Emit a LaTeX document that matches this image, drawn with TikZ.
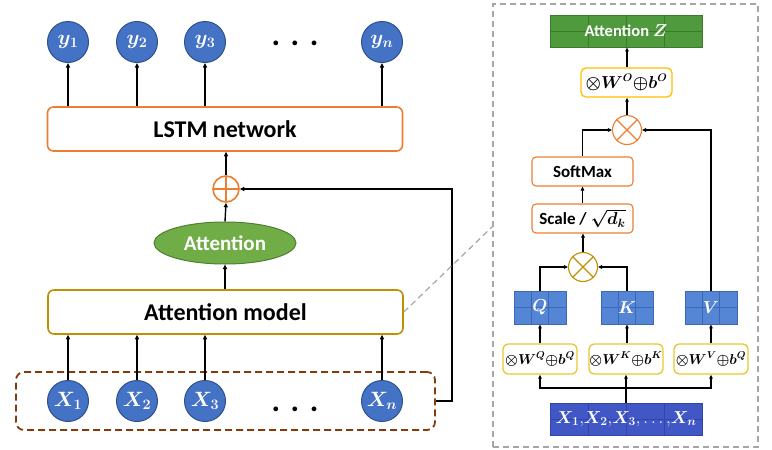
\documentclass[tikz,border=0pt]{standalone}
\usepackage{amsmath,bm}
\usepackage{fontspec}
\setmainfont{Carlito}
\usetikzlibrary{shapes.geometric,arrows.meta,calc}
\definecolor{cblue}{HTML}{4472C4}
\definecolor{cbluedark}{HTML}{2F528F}
\definecolor{corange}{HTML}{ED7D31}
\definecolor{cgold}{HTML}{BF9000}
\definecolor{cgreen}{HTML}{70AD47}
\definecolor{cgreendark}{HTML}{507E32}
\definecolor{cbrown}{HTML}{843C0C}
\definecolor{cgray}{HTML}{A6A6A6}
\definecolor{cyellow}{HTML}{E8C830}
\definecolor{cyellowl}{HTML}{FFC000}
\definecolor{mblue}{HTML}{5585D5}
\definecolor{mbluegrid}{HTML}{3D66B5}
\definecolor{iblue}{HTML}{4157C6}
\definecolor{ibluegrid}{HTML}{3346A8}
\definecolor{zgreen}{HTML}{4F9A3C}
\definecolor{zgreengrid}{HTML}{3A7A2A}
\begin{document}
\begin{tikzpicture}[x=1pt,y=-1pt,
  arr/.style={-{Triangle[length=4.5pt,width=4pt]},line width=1.4pt,black},
  arrs/.style={-{Triangle[length=4pt,width=3.5pt]},line width=1.1pt,black},
  vcirc/.style={circle,fill=cblue,draw=cbluedark,line width=1pt,minimum size=41pt,inner sep=0pt,
     text=white,font=\fontsize{21}{21}\selectfont\bfseries},
  bigbox/.style={rounded corners=6pt,fill=white,line width=1.6pt,minimum width=355pt,minimum height=44pt,
     font=\fontsize{24}{24}\selectfont\bfseries},
  smbox/.style={rounded corners=4pt,fill=white,line width=1.1pt,minimum width=101pt,minimum height=29pt,
     inner sep=1pt,font=\fontsize{17}{17}\selectfont\bfseries},
  wbox/.style={rounded corners=5pt,fill=white,draw=cyellow,line width=1.3pt,minimum width=74pt,minimum height=30pt,
     inner sep=0pt,font=\fontsize{14.5}{14.5}\selectfont\bfseries},
  mgrid/.style 2 args={path picture={
     \foreach \f in {#1}{\draw[#2,line width=0.8pt]
        ($(path picture bounding box.south west)!\f!(path picture bounding box.south east)$) -- ++(0,-60);}
     \draw[#2,line width=0.8pt] (path picture bounding box.west) -- (path picture bounding box.east);}},
  qkv/.style={rectangle,fill=mblue,draw=mbluegrid,line width=0.8pt,minimum width=52pt,minimum height=33pt,
     mgrid={0.3333,0.6667}{mbluegrid},text=white,font=\fontsize{17}{17}\selectfont\bfseries},
  opc/.style={circle,fill=white,line width=1.1pt,minimum size=29pt,inner sep=0pt},
  dotsnode/.style={font=\fontsize{32}{32}\selectfont\bfseries},
]
\useasboundingbox (0,0) rectangle (772,450);
\fill[white] (0,0) rectangle (772,450);

% ---------------- left part ----------------
\node[bigbox,draw=corange] (lstm) at (225,129) {LSTM network};
\foreach \n/\x/\l in {1/68/y_1,2/137/y_2,3/205/y_3,n/382/y_n}{
  \node[vcirc] (y\n) at (\x,42) {$\bm{\l}$};
  \draw[arr] (lstm.north -| y\n) -- (y\n.south);
}
\node[dotsnode] (ydots) at (295,43) {.\,\,.\,\,.};

\node[circle,draw=corange,fill=white,line width=1.6pt,minimum size=26pt,inner sep=0pt,
  path picture={\draw[corange,line width=1.4pt] (path picture bounding box.north) -- (path picture bounding box.south)
     (path picture bounding box.west) -- (path picture bounding box.east);}] (plus) at (226,189) {};
\draw[arr] (plus.north) -- (lstm.south -| plus);

\node[ellipse,fill=cgreen,draw=cgreendark,line width=1pt,minimum width=142pt,minimum height=42pt,inner sep=0pt,
  text=white,font=\fontsize{21}{21}\selectfont\bfseries] (att) at (225,243) {Attention};
\draw[arr] (att.north) -- (plus.south);

\node[bigbox,draw=cgold] (am) at (225.5,312) {Attention model};
\draw[arr] (am.north -| att) -- (att.south);

\node[rectangle,rounded corners=8pt,draw=cbrown,dashed,dash pattern=on 7pt off 4pt,line width=1.8pt,
  minimum width=419pt,minimum height=58pt] (inbox) at (225.5,401) {};
\foreach \n/\x/\l in {1/68/X_1,2/137/X_2,3/205/X_3,n/382/X_n}{
  \node[vcirc] (x\n) at (\x,401) {$\bm{\l}$};
  \draw[arr] (x\n.north) -- (am.south -| x\n);
}
\node[dotsnode] (xdots) at (295,409) {.\,\,.\,\,.};

\draw[arr] (inbox.east) -- ++(16,0) |- (plus.east);

% ---------------- right panel ----------------
\node[rectangle,draw=cgray,dashed,dash pattern=on 6pt off 4pt,line width=1.3pt,
  minimum width=265pt,minimum height=443pt] (panel) at (625.5,225.5) {};
\coordinate (pc) at (493,226);
\draw[cgray,line width=1.2pt,dashed,dash pattern=on 6pt off 4pt] (am.east) -- (pc);

\node[rectangle,fill=zgreen,draw=zgreengrid,line width=0.8pt,minimum width=152pt,minimum height=32pt,
  mgrid={0.25,0.5,0.75}{zgreengrid},text=white,font=\fontsize{16.5}{16.5}\selectfont\bfseries] (Z) at (626,31) {Attention $\bm{Z}$};
\node[wbox,draw=cyellowl,minimum width=91pt,minimum height=29pt,font=\fontsize{16}{16}\selectfont\bfseries] (WO) at (626.5,82.5) {$\bm{{\otimes}W^O{\oplus}b^O}$};
\node[opc,draw=corange,path picture={\draw[corange,line width=1.1pt]
   (path picture bounding box.north west) -- (path picture bounding box.south east)
   (path picture bounding box.north east) -- (path picture bounding box.south west);}] (mul1) at (627,130) {};
\node[smbox,draw=corange] (soft) at (582.5,171.5) {SoftMax};
\node[smbox,draw=corange] (scale) at (582.5,218.5) {Scale / $\bm{\sqrt{d_k}}$};
\node[opc,draw=cgold,path picture={\draw[cgold,line width=1.1pt]
   (path picture bounding box.north west) -- (path picture bounding box.south east)
   (path picture bounding box.north east) -- (path picture bounding box.south west);}] (mul2) at (583,267) {};

\node[qkv] (Q) at (540,307.5) {$\bm{Q}$};
\node[qkv] (K) at (627,307.5) {$\bm{K}$};
\node[qkv] (V) at (711,307.5) {$\bm{V}$};

\node[wbox] (WQ) at (540,359) {$\bm{{\otimes}W^Q{\oplus}b^Q}$};
\node[wbox] (WK) at (626,359) {$\bm{{\otimes}W^K{\oplus}b^K}$};
\node[wbox] (WV) at (711,359) {$\bm{{\otimes}W^V{\oplus}b^Q}$};

\node[rectangle,fill=iblue,draw=ibluegrid,line width=0.8pt,minimum width=152pt,minimum height=32pt,
  mgrid={0.25,0.5,0.75}{ibluegrid},text=white,font=\fontsize{16.5}{16.5}\selectfont\bfseries] (inp) at (626,419)
  {$\bm{X_1}{,}\bm{X_2}{,}\bm{X_3}{,}\,{\ldots}\,{,}\bm{X_n}$};

\coordinate (sp) at (626,388);
\draw[line width=1.1pt] (inp.north) -- (sp);
\draw[arrs] (sp) -| (WQ.south);
\draw[arrs] (sp) -| (WV.south);
\draw[arrs] (sp) -- (WK.south);
\draw[arrs] (WQ.north) -- (Q.south);
\draw[arrs] (WK.north -| K) -- (K.south);
\draw[arrs] (WV.north) -- (V.south);
\draw[arrs] (Q.north) |- (mul2.west);
\draw[arrs] (K.north) |- (mul2.east);
\draw[arrs] (mul2.north) -- (scale.south -| mul2);
\draw[arrs] (scale.north) -- (soft.south);
\draw[arrs] (soft.north) |- (mul1.west);
\draw[arrs] (V.north) |- (mul1.east);
\draw[arrs] (mul1.north) -- (WO.south -| mul1);
\draw[arrs] (WO.north -| mul1) -- (Z.south -| mul1);
\end{tikzpicture}
\end{document}
